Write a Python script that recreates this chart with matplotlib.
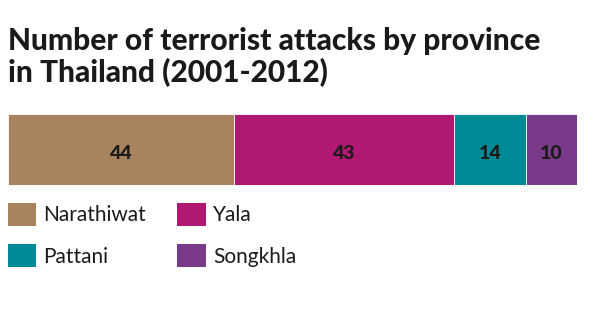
import matplotlib
matplotlib.use("Agg")
import matplotlib.pyplot as plt
from matplotlib.patches import Patch

provinces = ["Narathiwat", "Yala", "Pattani", "Songkhla"]
attacks = [44, 43, 14, 10]
colors = ["#A8835E", "#B01874", "#008A96", "#7A3A8A"]
title = "Number of terrorist attacks by province\nin Thailand (2001-2012)"

plt.rcParams['font.family'] = ['Lato', 'DejaVu Sans']
W, H = 593, 331
fig = plt.figure(figsize=(W / 100, H / 100), dpi=100)
fig.patch.set_facecolor("white")

x0, x1, y0, y1 = 8, 577, 114, 185
ax = fig.add_axes([x0 / W, 1 - y1 / H, (x1 - x0) / W, (y1 - y0) / H])
total = sum(attacks)
left = 0
for p, v, c in zip(provinces, attacks, colors):
    ax.barh(0, v, left=left, height=1, color=c, edgecolor="white", linewidth=0.6)
    ax.text(left + v / 2, -0.06, str(v), ha="center", va="center",
            fontsize=14, fontweight="black", color="#1a1a1a")
    left += v
ax.set_xlim(0, total)
ax.set_ylim(-0.5, 0.5)
ax.axis("off")

fig.text(8 / W, 1 - 27 / H, title, ha="left", va="top", fontsize=21.5,
         fontweight="black", color="#1a1a1a", linespacing=1.12)

order = [0, 2, 1, 3]
handles = [Patch(facecolor=colors[i], edgecolor="none") for i in order]
labels = [provinces[i] for i in order]
leg = fig.legend(handles, labels, ncol=2, loc="upper left",
                 bbox_to_anchor=(8 / W, 1 - 203 / H), frameon=False,
                 fontsize=15, handlelength=1.35, handleheight=1.3,
                 handletextpad=0.35, columnspacing=1.5, labelspacing=0.9,
                 borderpad=0, borderaxespad=0)
for t in leg.get_texts():
    t.set_color("#1a1a1a")

fig.savefig("out.png", dpi=100, facecolor="white")
